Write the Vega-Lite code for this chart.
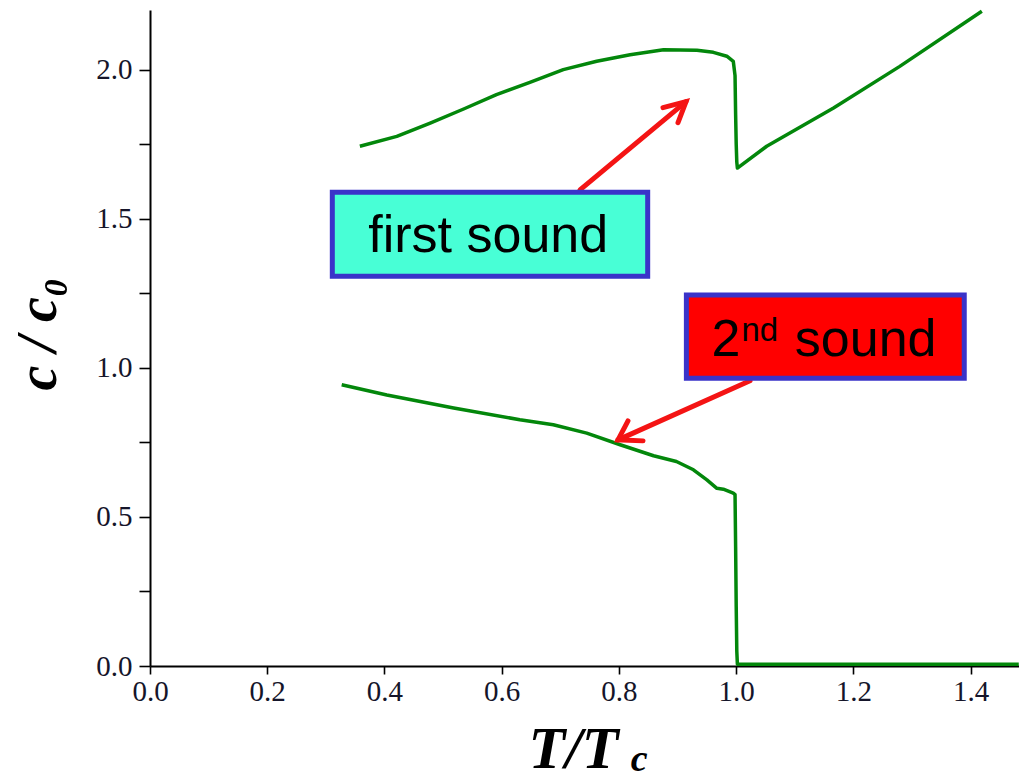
{
  "$schema": "https://vega.github.io/schema/vega-lite/v6.json",
  "width": 869,
  "height": 656,
  "autosize": {"type": "none"},
  "padding": {"left": 150, "top": 10, "right": 0, "bottom": 115},
  "background": "white",
  "config": {
    "view": {"stroke": null},
    "axis": {
      "grid": false,
      "domainColor": "#000000",
      "domainWidth": 2,
      "tickColor": "#000000",
      "tickWidth": 1.6,
      "labelFont": "Liberation Serif",
      "labelFontSize": 29,
      "labelColor": "#15152a",
      "labelFlush": false,
      "titleFont": "Liberation Serif",
      "titleFontStyle": "italic",
      "titleFontWeight": "bold",
      "titleColor": "#000000"
    }
  },
  "datasets": {
    "curves": [
      {"branch": "first", "T": 0.358, "c": 1.743},
      {"branch": "first", "T": 0.421, "c": 1.776},
      {"branch": "first", "T": 0.478, "c": 1.821},
      {"branch": "first", "T": 0.535, "c": 1.868},
      {"branch": "first", "T": 0.591, "c": 1.916},
      {"branch": "first", "T": 0.648, "c": 1.957},
      {"branch": "first", "T": 0.705, "c": 2.0},
      {"branch": "first", "T": 0.762, "c": 2.028},
      {"branch": "first", "T": 0.819, "c": 2.05},
      {"branch": "first", "T": 0.876, "c": 2.067},
      {"branch": "first", "T": 0.933, "c": 2.065},
      {"branch": "first", "T": 0.961, "c": 2.058},
      {"branch": "first", "T": 0.984, "c": 2.045},
      {"branch": "first", "T": 0.995, "c": 2.028},
      {"branch": "first", "T": 0.998, "c": 1.98},
      {"branch": "first", "T": 0.999, "c": 1.85},
      {"branch": "first", "T": 1.0, "c": 1.75},
      {"branch": "first", "T": 1.001, "c": 1.69},
      {"branch": "first", "T": 1.002, "c": 1.67},
      {"branch": "first", "T": 1.052, "c": 1.743},
      {"branch": "first", "T": 1.166, "c": 1.871},
      {"branch": "first", "T": 1.279, "c": 2.011},
      {"branch": "first", "T": 1.419, "c": 2.196},
      {"branch": "second", "T": 0.327, "c": 0.943},
      {"branch": "second", "T": 0.404, "c": 0.909},
      {"branch": "second", "T": 0.518, "c": 0.865},
      {"branch": "second", "T": 0.631, "c": 0.826},
      {"branch": "second", "T": 0.688, "c": 0.809},
      {"branch": "second", "T": 0.745, "c": 0.781},
      {"branch": "second", "T": 0.802, "c": 0.742},
      {"branch": "second", "T": 0.859, "c": 0.705},
      {"branch": "second", "T": 0.898, "c": 0.686},
      {"branch": "second", "T": 0.927, "c": 0.658},
      {"branch": "second", "T": 0.95, "c": 0.624},
      {"branch": "second", "T": 0.967, "c": 0.596},
      {"branch": "second", "T": 0.978, "c": 0.593},
      {"branch": "second", "T": 0.995, "c": 0.58},
      {"branch": "second", "T": 0.998, "c": 0.575},
      {"branch": "second", "T": 0.999, "c": 0.4},
      {"branch": "second", "T": 1.0, "c": 0.2},
      {"branch": "second", "T": 1.001, "c": 0.05},
      {"branch": "second", "T": 1.002, "c": 0.006},
      {"branch": "second", "T": 1.2, "c": 0.006},
      {"branch": "second", "T": 1.4, "c": 0.006},
      {"branch": "second", "T": 1.482, "c": 0.006}
    ],
    "boxes": [
      {"name": "first", "x1": 0.311, "x2": 0.849, "y1": 1.307, "y2": 1.589},
      {"name": "second", "x1": 0.915, "x2": 1.389, "y1": 0.965, "y2": 1.244}
    ],
    "labels": [
      {"kind": "main", "text": "first sound", "x": 0.577, "y": 1.387, "align": "center"},
      {"kind": "main", "text": "2", "x": 0.958, "y": 1.04, "align": "left"},
      {"kind": "sup", "text": "nd", "x": 1.009, "y": 1.091, "align": "left"},
      {"kind": "main", "text": "sound", "x": 1.1, "y": 1.04, "align": "left"}
    ],
    "arrows": [
      {"path": "a1s", "i": 0, "x": 0.7335, "y": 1.597},
      {"path": "a1s", "i": 1, "x": 0.9144, "y": 1.8926},
      {"path": "a1h", "i": 0, "x": 0.8751, "y": 1.8725},
      {"path": "a1h", "i": 1, "x": 0.9144, "y": 1.8926},
      {"path": "a1h", "i": 2, "x": 0.9007, "y": 1.8221},
      {"path": "a2s", "i": 0, "x": 1.0235, "y": 0.9564},
      {"path": "a2s", "i": 1, "x": 0.7984, "y": 0.7584},
      {"path": "a2h", "i": 0, "x": 0.8154, "y": 0.8221},
      {"path": "a2h", "i": 1, "x": 0.7984, "y": 0.7584},
      {"path": "a2h", "i": 2, "x": 0.841, "y": 0.755}
    ],
    "sub": [
      {"text": "c", "x": 0.82, "y": -0.352}
    ]
  },
  "encoding": {
    "x": {
      "type": "quantitative",
      "scale": {"domain": [0, 1.4824], "nice": false, "zero": false}
    },
    "y": {
      "type": "quantitative",
      "scale": {"domain": [0, 2.2], "nice": false, "zero": false}
    }
  },
  "layer": [
    {
      "mark": {"type": "rule", "color": "#000000", "strokeWidth": 1.6, "strokeDash": [3, 2]},
      "encoding": {"x": {"datum": 1.0, "type": "quantitative"}}
    },
    {
      "mark": {"type": "rule", "color": "#000000", "strokeWidth": 2.5},
      "encoding": {"y": {"datum": 2.2, "type": "quantitative"}}
    },
    {
      "data": {"name": "curves"},
      "mark": {"type": "line", "color": "#03870b", "strokeWidth": 3.5, "strokeJoin": "round"},
      "encoding": {
        "x": {
          "field": "T",
          "type": "quantitative",
          "axis": {
            "values": [0, 0.2, 0.4, 0.6, 0.8, 1.0, 1.2, 1.4],
            "format": ".1f",
            "tickSize": 8,
            "labelPadding": 3,
            "title": "T/T",
            "titleFontSize": 60,
            "titleAlign": "left",
            "titleBaseline": "alphabetic",
            "titleX": 378,
            "titleY": 101
          }
        },
        "y": {
          "field": "c",
          "type": "quantitative",
          "axis": {
            "values": [0, 0.25, 0.5, 0.75, 1.0, 1.25, 1.5, 1.75, 2.0],
            "labelExpr": "datum.value % 0.5 === 0 ? format(datum.value, '.1f') : ''",
            "tickSize": 11,
            "labelPadding": 7,
            "title": "c / c₀",
            "titleFontSize": 56,
            "titleAngle": -90,
            "titleAlign": "left",
            "titleBaseline": "alphabetic",
            "titleX": -95,
            "titleY": 380
          }
        },
        "detail": {"field": "branch"}
      }
    },
    {
      "data": {"name": "arrows"},
      "mark": {"type": "line", "color": "#f41414", "strokeWidth": 5, "strokeCap": "round", "strokeJoin": "miter"},
      "encoding": {
        "x": {"field": "x", "type": "quantitative"},
        "y": {"field": "y", "type": "quantitative"},
        "detail": {"field": "path"},
        "order": {"field": "i"}
      }
    },
    {
      "data": {"name": "boxes"},
      "mark": {"type": "rect", "stroke": "#3a33c9", "strokeWidth": 5},
      "encoding": {
        "x": {"field": "x1", "type": "quantitative"},
        "x2": {"field": "x2"},
        "y": {"field": "y1", "type": "quantitative"},
        "y2": {"field": "y2"},
        "fill": {
          "field": "name",
          "type": "nominal",
          "scale": {"domain": ["first", "second"], "range": ["#48ffd6", "#ff0000"]},
          "legend": null
        }
      }
    },
    {
      "data": {"name": "labels"},
      "transform": [{"filter": "datum.kind === 'main' && datum.align === 'center'"}],
      "mark": {"type": "text", "font": "Liberation Sans", "fontSize": 52, "color": "#000000", "align": "center", "baseline": "alphabetic"},
      "encoding": {
        "x": {"field": "x", "type": "quantitative"},
        "y": {"field": "y", "type": "quantitative"},
        "text": {"field": "text"}
      }
    },
    {
      "data": {"name": "labels"},
      "transform": [{"filter": "datum.kind === 'main' && datum.align === 'left'"}],
      "mark": {"type": "text", "font": "Liberation Sans", "fontSize": 52, "color": "#000000", "align": "left", "baseline": "alphabetic"},
      "encoding": {
        "x": {"field": "x", "type": "quantitative"},
        "y": {"field": "y", "type": "quantitative"},
        "text": {"field": "text"}
      }
    },
    {
      "data": {"name": "labels"},
      "transform": [{"filter": "datum.kind === 'sup'"}],
      "mark": {"type": "text", "font": "Liberation Sans", "fontSize": 33, "color": "#000000", "align": "left", "baseline": "alphabetic"},
      "encoding": {
        "x": {"field": "x", "type": "quantitative"},
        "y": {"field": "y", "type": "quantitative"},
        "text": {"field": "text"}
      }
    },
    {
      "data": {"name": "sub"},
      "mark": {"type": "text", "font": "Liberation Serif", "fontStyle": "italic", "fontWeight": "bold", "fontSize": 38, "color": "#000000", "align": "left", "baseline": "alphabetic"},
      "encoding": {
        "x": {"field": "x", "type": "quantitative"},
        "y": {"field": "y", "type": "quantitative"},
        "text": {"field": "text"}
      }
    }
  ]
}
